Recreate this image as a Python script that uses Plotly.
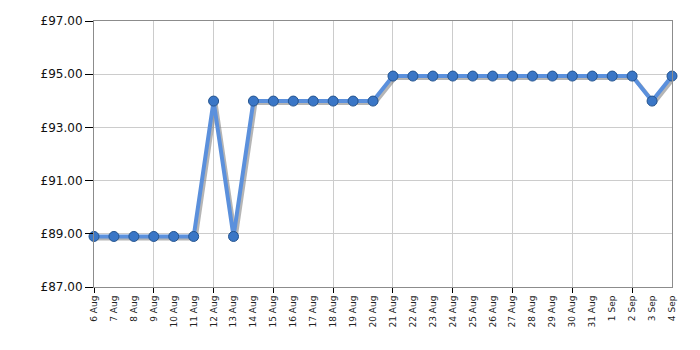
import plotly.graph_objects as go

dates = ["6 Aug", "7 Aug", "8 Aug", "9 Aug", "10 Aug", "11 Aug", "12 Aug", "13 Aug",
         "14 Aug", "15 Aug", "16 Aug", "17 Aug", "18 Aug", "19 Aug", "20 Aug",
         "21 Aug", "22 Aug", "23 Aug", "24 Aug", "25 Aug", "26 Aug", "27 Aug",
         "28 Aug", "29 Aug", "30 Aug", "31 Aug", "1 Sep", "2 Sep", "3 Sep", "4 Sep"]
prices = [88.9, 88.9, 88.9, 88.9, 88.9, 88.9, 93.99, 88.9,
          93.99, 93.99, 93.99, 93.99, 93.99, 93.99, 93.99,
          94.93, 94.93, 94.93, 94.93, 94.93, 94.93, 94.93,
          94.93, 94.93, 94.93, 94.93, 94.93, 94.93, 93.99, 94.93]
y_ticks = [87, 89, 91, 93, 95, 97]
y_labels = ["£%.2f" % v for v in y_ticks]

idx = list(range(len(dates)))
grid_idx = idx[::3]
n = len(dates) - 1

fig = go.Figure()
# invisible traces to activate base axes
fig.add_trace(go.Scatter(x=[idx[0]], y=[prices[0]], xaxis="x", yaxis="y", mode="markers",
                         marker=dict(opacity=0), hoverinfo="skip", showlegend=False))
fig.add_trace(go.Scatter(x=[idx[0]], y=[prices[0]], xaxis="x2", yaxis="y", mode="markers",
                         marker=dict(opacity=0), hoverinfo="skip", showlegend=False))
# shadow
fig.add_trace(go.Scatter(x=idx, y=prices, mode="lines", xaxis="x3", yaxis="y3",
                         line=dict(color="rgba(120,120,120,0.55)", width=4),
                         hoverinfo="skip", showlegend=False, cliponaxis=False))
# main line
fig.add_trace(go.Scatter(x=idx, y=prices, mode="lines+markers", xaxis="x4", yaxis="y4",
                         line=dict(color="#5b90dc", width=4),
                         marker=dict(size=10, color="#3a76c6",
                                     line=dict(color="#24548f", width=1)),
                         showlegend=False, cliponaxis=False))

font = "DejaVu Sans, Verdana, sans-serif"
fig.update_layout(
    width=700, height=350,
    margin=dict(l=94, r=28, t=21, b=63),
    paper_bgcolor="white", plot_bgcolor="white",
    xaxis=dict(range=[0, n], tickvals=idx, ticktext=dates, tickangle=-90,
               showgrid=False, zeroline=False, ticks="",
               showline=True, linecolor="#8c8c8c", linewidth=1, mirror=True,
               tickfont=dict(family=font, size=9, color="#222"), ticklabelstandoff=4),
    xaxis2=dict(range=[0, n], overlaying="x", anchor="y", tickvals=grid_idx,
                showticklabels=False, showgrid=True, gridcolor="#cccccc", gridwidth=1,
                zeroline=False, ticks="outside", ticklen=5, tickcolor="#000", side="bottom"),
    xaxis3=dict(range=[-0.1, n - 0.1], overlaying="x", anchor="y3", visible=False),
    xaxis4=dict(range=[0, n], overlaying="x", anchor="y4", visible=False),
    yaxis=dict(range=[87, 97], tickvals=y_ticks, ticktext=y_labels,
               showgrid=True, gridcolor="#cccccc", zeroline=False,
               ticks="outside", ticklen=8, tickcolor="#000",
               showline=True, linecolor="#8c8c8c", linewidth=1, mirror=True,
               tickfont=dict(family=font, size=12, color="#111")),
    yaxis3=dict(range=[87.075, 97.075], overlaying="y", anchor="x3", visible=False),
    yaxis4=dict(range=[87, 97], overlaying="y", anchor="x4", visible=False),
)
fig.write_html("out.html")
